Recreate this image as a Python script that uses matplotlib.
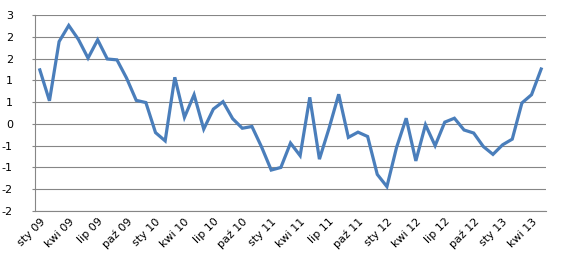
import numpy as np
import matplotlib
matplotlib.use("Agg")
import matplotlib.pyplot as plt
from matplotlib.ticker import FixedLocator, FuncFormatter

# monthly values, Jan 2009 .. May 2013
values = [
    1.24, 0.53, 1.89, 2.26, 1.94, 1.51, 1.93, 1.49, 1.47, 1.05, 0.54, 0.49,
    -0.20, -0.39, 1.07, 0.15, 0.67, -0.12, 0.34, 0.51, 0.12, -0.10, -0.06, -0.53,
    -1.06, -1.00, -0.44, -0.73, 0.61, -0.81, -0.10, 0.68, -0.31, -0.19, -0.29, -1.16,
    -1.44, -0.54, 0.13, -0.85, -0.02, -0.50, 0.04, 0.13, -0.14, -0.21, -0.52, -0.70,
    -0.48, -0.35, 0.48, 0.67, 1.26,
]

# every third month is labelled
tick_labels = [
    "sty 09", "kwi 09", "lip 09", "paź 09",
    "sty 10", "kwi 10", "lip 10", "paź 10",
    "sty 11", "kwi 11", "lip 11", "paź 11",
    "sty 12", "kwi 12", "lip 12", "paź 12",
    "sty 13", "kwi 13",
]
y_ticks = [2.5, 2.0, 1.5, 1.0, 0.5, 0.0, -0.5, -1.0, -1.5, -2.0]

GRID = "#868686"
LINE = "#4A7EBB"


def excel_round(v, pos=None):
    # Excel "0" number format rounds half away from zero
    r = int(np.sign(v) * np.floor(abs(v) + 0.5))
    return str(r)


fig = plt.figure(figsize=(5.69, 2.67), dpi=100)
ax = fig.add_axes([35 / 569, 56 / 267, 511 / 569, 196 / 267])

x = np.arange(len(values))
ax.plot(x, values, color=LINE, linewidth=2.3, solid_joinstyle="miter")

ax.set_xlim(-0.5, len(values) - 0.5)
ax.set_ylim(-2.0, 2.5)

ax.yaxis.set_major_locator(FixedLocator(y_ticks))
ax.yaxis.set_major_formatter(FuncFormatter(excel_round))
ax.set_xticks(x[::3][:len(tick_labels)])
ax.set_xticklabels(tick_labels, rotation=45, ha="right", va="top",
                   rotation_mode="anchor")

for yv in y_ticks:
    ax.axhline(yv, color=GRID, linewidth=0.8, zorder=0)

for side in ["top", "right"]:
    ax.spines[side].set_visible(False)
ax.spines["left"].set_color(GRID)
ax.spines["bottom"].set_color(GRID)
ax.spines["left"].set_linewidth(0.8)
ax.spines["bottom"].set_linewidth(0.8)

ax.tick_params(axis="y", length=2, color=GRID, labelsize=8, pad=14)
ax.tick_params(axis="x", length=0, labelsize=8, pad=4)
for lab in ax.get_yticklabels():
    lab.set_horizontalalignment("right")

fig.savefig("out.png", dpi=100)
